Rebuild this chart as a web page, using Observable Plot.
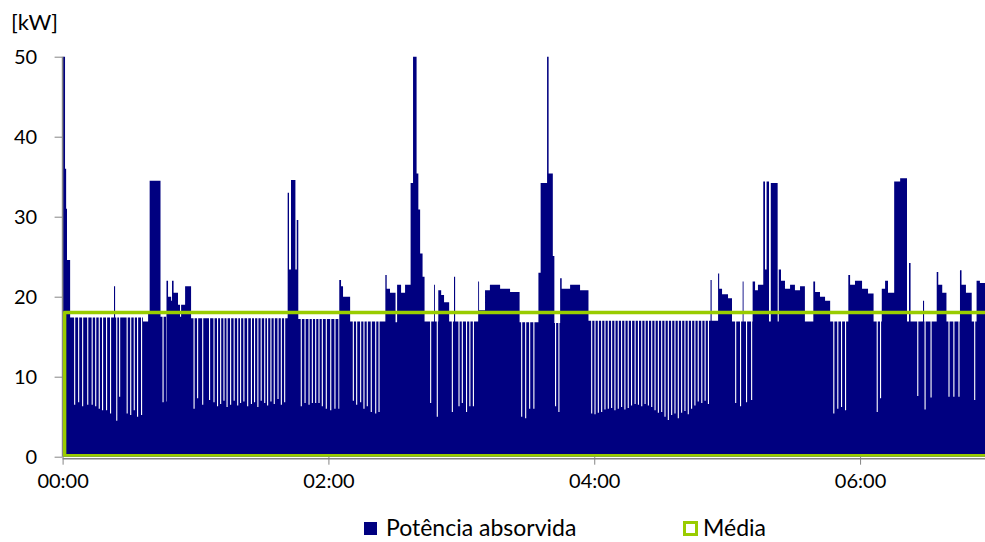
<!DOCTYPE html>
<html><head><meta charset="utf-8">
<script src="https://cdn.jsdelivr.net/npm/d3@7"></script>
<script src="https://cdn.jsdelivr.net/npm/@observablehq/plot@0.6"></script>
<style>
html,body{margin:0;padding:0;background:#fff;}
#wrap{position:relative;width:985px;height:542px;font-family:Lato,"Open Sans",sans-serif;color:#000;overflow:hidden;}
#chart{position:absolute;left:0;top:0;}
#unit{position:absolute;left:11px;top:8px;font-size:22px;line-height:28px;}
.lg{position:absolute;font-size:23px;line-height:28px;top:513px;white-space:nowrap;}
.sw{position:absolute;box-sizing:border-box;}
</style></head><body>
<div id="wrap">
  <div id="chart"></div>
  <div id="unit">[kW]</div>
  <div class="sw" style="left:364px;top:522px;width:13px;height:13px;background:#000080"></div>
  <div class="lg" style="left:386px">Potência absorvida</div>
  <div class="sw" style="left:683px;top:521px;width:15px;height:15px;border:3px solid #99cc00;background:#fff"></div>
  <div class="lg" style="left:703px">Média</div>
</div>
<script>
// Time in minutes after 00:00, power in kW
// Step levels of the absorbed power (start time, level)
const segT = [0,1.1,1.6,2.0,3.4,23.2,23.7,36.3,38.6,39.3,44.2,46.9,47.6,49.0,49.4,50.1,52.1,53.0,53.5,55.3,58.0,
  101.6,102.2,103.1,105.1,105.7,106.4,124.9,125.7,126.6,129.8,145.7,146.3,147.8,150.3,151.0,152.8,154.6,
  157.1,158.2,159.8,160.6,161.4,162.5,163.4,167.7,168.1,169.6,170.9,172.2,174.5,176.7,177.2,187.6,188.0,
  190.7,192.9,197.5,202.0,206.3,214.8,215.8,218.7,219.4,221.3,222.0,224.6,225.3,229.1,233.6,237.4,
  292.5,293.0,295.9,296.4,297.7,300.4,302.2,307.0,307.4,311.5,312.6,313.9,316.3,317.1,317.8,318.9,319.7,
  322.8,323.3,324.3,326.1,328.4,330.6,332.9,335.1,338.9,339.7,341.9,344.2,346.5,354.7,355.5,357.7,360.9,
  363.6,366.1,369.8,371.3,372.6,375.4,378.1,381.2,382.1,382.8,388.4,388.9,394.6,395.3,397.1,399.0,405.1,
  405.8,407.8,410.4,412.6,414.1];
const segV = [55,36,31,24.6,17.4,21.3,17.4,16.9,18,34.5,17.5,22,20,19.5,22,20.5,19,17.5,19,21.3,17.3,
  33,23.4,34.6,23.4,29.6,17.2,22.1,21.3,20,16.9,22.7,21,20.5,16.8,21.5,20.5,21.5,
  34.2,55,35.4,30.9,25.4,22.5,16.9,21.5,16.9,20.8,20.2,19.3,16.9,22.5,16.9,21.9,18.3,
  20.8,21.5,21.0,20.6,16.8,23,34.2,55,35.4,25.1,16.7,22.3,21,21.5,20.8,17.0,
  22.1,17.0,22.9,21,20.3,19.8,16.9,21.9,16.9,21.9,20.8,21.5,34.4,23.4,34.4,16.9,34.2,
  16.9,23.4,22,21,21.5,20.8,21.3,16.9,21.9,20.6,20,19.5,16.9,22.7,21.5,22,21,
  20.4,16.9,21,22,20.5,34.4,34.8,16.9,24.2,16.9,19.5,16.9,23.1,21.5,20.5,16.9,23.3,
  21.5,20.5,16.9,22,21.7];
// Short drops of the power (time, level)
const dipT = [5.2,7.0,8.8,11.1,13.1,14.7,16.3,17.8,19.6,21.4,24.2,25.5,28.9,30.5,32.1,33.6,35.4,
  45.1,46.7,
  59.1,60.7,63.0,66.1,68.1,69.7,71.1,72.6,74.0,75.6,77.2,78.8,80.1,81.6,83.3,85.0,86.4,87.9,89.4,91.0,92.3,93.8,95.3,97.0,98.5,100.0,
  107.5,109.2,111.0,112.5,114.0,115.5,117.0,118.8,120.8,122.7,124.5,
  131.0,132.5,134.3,135.8,137.3,139.1,141.1,142.6,
  165.9,168.9,175.7,178.7,180.2,182.1,183.6,185.2,
  207.0,208.8,210.6,212.5,222.3,223.8,
  238.6,240.1,241.6,243.1,244.6,246.1,247.6,249.1,250.6,252.1,253.6,255.1,256.6,258.2,259.7,261.2,262.7,264.2,
  265.7,267.2,268.7,270.2,271.7,273.2,274.7,276.2,277.7,279.2,280.7,282.2,283.7,285.2,286.7,288.3,289.8,291.3,
  303.6,305.8,308.5,310.8,
  347.9,349.7,351.4,353.2,367.5,369.0,385.8,389.1,391.8,399.9,402.1,404.4,411.5];
const dipV = [6.5,6.8,6.3,6.5,6.5,6.3,6.0,5.8,5.8,5.4,4.5,7.5,5.4,5.2,5.8,5.0,5.2,
  6.8,6.9,
  6.0,7.3,6.5,7.1,6.8,6.3,6.6,7.0,6.2,6.5,7.0,6.4,6.7,6.9,6.3,6.6,6.8,6.2,7.0,6.7,6.4,6.9,6.6,7.2,6.5,6.8,
  6.3,6.7,6.5,6.7,6.7,6.7,6.3,6.0,5.8,6.0,6.0,
  7.0,6.5,6.8,6.0,6.3,5.6,5.4,5.6,
  6.7,5.0,5.6,6.3,6.7,5.6,6.3,6.3,
  5.0,4.8,6.0,6.0,6.3,5.6,
  5.4,5.3,5.5,5.6,5.9,6.0,6.1,5.8,6.0,6.2,5.9,6.1,6.4,6.6,6.5,6.3,6.6,6.4,
  6.2,5.8,5.5,5.6,5.0,4.6,5.2,5.4,4.8,5.5,5.7,5.3,6.0,6.4,6.9,6.7,7.0,6.6,
  6.7,6.3,6.8,7.1,
  5.4,6.0,6.2,5.8,5.6,7.3,7.6,5.9,7.4,7.5,7.5,7.5,7.1];
const dipDuration = 0.5;   // minutes, one sample
const tEnd = 417;
const meanKW = 17.9;
const xTicks = [0, 120, 240, 360];
const yTicks = [0, 10, 20, 30, 40, 50];

function levelAt(t) {
  const i = d3.bisectRight(segT, t) - 1;
  return segV[Math.max(0, i)];
}
const pts = segT.map((t, i) => ({t, v: segV[i]}));
dipT.forEach((t, i) => {
  pts.push({t, v: dipV[i]});
  pts.push({t: t + dipDuration, v: levelAt(t + dipDuration)});
});
pts.push({t: tEnd, v: levelAt(tEnd)});
pts.sort((a, b) => a.t - b.t);
const meanData = [{t: 0, v: meanKW}, {t: tEnd + 5, v: meanKW}];

const fmt = m => String(Math.floor(m / 60)).padStart(2, "0") + ":" + String(m % 60).padStart(2, "0");

const chart = Plot.plot({
  width: 985, height: 500,
  marginLeft: 62.6, marginRight: 0, marginTop: 56.7, marginBottom: 43.3,
  style: {fontFamily: "Lato, 'Open Sans', sans-serif", color: "#000", background: "#fff"},
  x: {domain: [0, 416.4], axis: null},
  y: {domain: [0, 50], axis: null},
  marks: [
    Plot.areaY(pts, {x: "t", y: "v", curve: "step-after", fill: "#000080", clip: true}),
    Plot.ruleY([0], {stroke: "#868686", strokeWidth: 1.6, dy: 1.5}),
    Plot.ruleX([0], {stroke: "#868686", strokeWidth: 1.6, dx: -0.5}),
    Plot.areaY(meanData, {x: "t", y: "v", fill: "none", stroke: "#99cc00", strokeWidth: 3.5, dx: 2, dy: -1, clip: true}),
    Plot.axisX({ticks: xTicks, tickFormat: fmt, tickSize: 8, tickPadding: 9, label: null, stroke: "#868686", fill: "#000", fontSize: 20}),
    Plot.axisY({ticks: yTicks, tickSize: 8, tickPadding: 18, label: null, stroke: "#868686", fill: "#000", fontSize: 20})
  ]
});
document.getElementById("chart").appendChild(chart);
</script>
</body></html>
